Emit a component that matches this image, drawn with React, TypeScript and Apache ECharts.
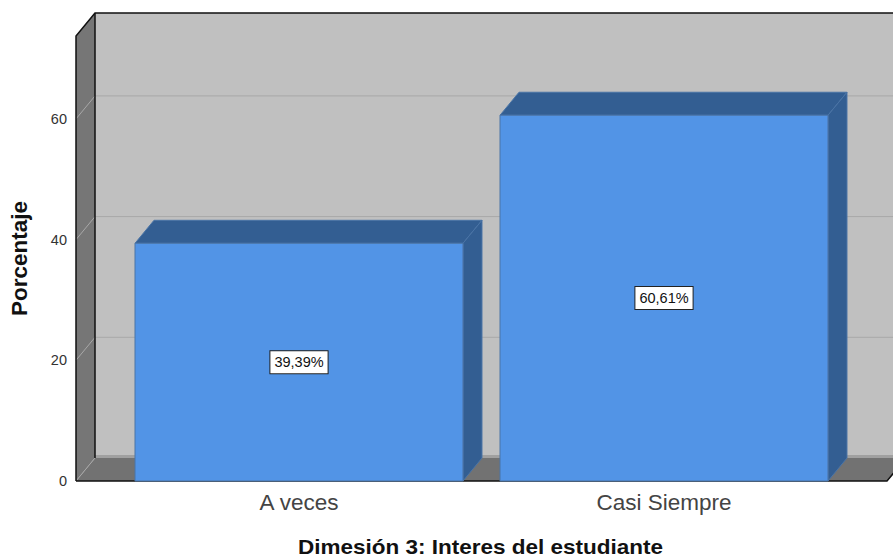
import React, { useEffect, useRef } from "react";
import * as echarts from "echarts";

const categories = ["A veces", "Casi Siempre"];
const percentages = [39.39, 60.61];
const barLabels = ["39,39%", "60,61%"];
const yTicks = [0, 20, 40, 60];
const yMax = 73.74;
const xAxisTitle = "Dimesión 3: Interes del estudiante";
const yAxisTitle = "Porcentaje";

const DX = 19;
const DY = 23;
const WALL_PAD = 40.5;

export default function App() {
  const ref = useRef<HTMLDivElement>(null);
  useEffect(() => {
    document.body.style.margin = "0";
    const chart = echarts.init(ref.current!, undefined, { renderer: "svg" });
    const font = "Liberation Sans";
    chart.setOption({
      animation: false,
      backgroundColor: "#ffffff",
      grid: { left: 116.5, top: 36, width: 730, height: 445 },
      graphic: [
        {
          type: "text",
          x: 480.5,
          y: 547,
          scaleX: 1.155,
          style: {
            text: xAxisTitle,
            fontFamily: font,
            fontSize: 19.5,
            fontWeight: "bold",
            fill: "#111",
            align: "center",
            verticalAlign: "middle",
          },
        },
      ],
      xAxis: {
        type: "category",
        data: categories,
        axisLine: { show: false },
        axisTick: { show: false },
        axisLabel: { fontFamily: font, fontSize: 22.5, color: "#444", margin: 10 },
      },
      yAxis: {
        type: "value",
        min: 0,
        max: yMax,
        interval: 20,
        offset: 40.5,
        splitLine: { show: false },
        axisLine: { show: false },
        axisTick: { show: false },
        axisLabel: { fontFamily: font, fontSize: 14.5, color: "#333", margin: 9, showMaxLabel: false, padding: [5, 0, 0, 0] },
        name: yAxisTitle,
        nameLocation: "middle",
        nameGap: 45,
        nameTextStyle: { fontFamily: font, fontSize: 22.5, fontWeight: "bold", color: "#111" },
      },
      series: [
        {
          type: "custom",
          coordinateSystem: "cartesian2d",
          silent: true,
          z: 1,
          data: [[0, 0]],
          renderItem: (params: any, api: any) => {
            const cs = params.coordSys;
            const l = cs.x - WALL_PAD;
            const r = cs.x + cs.width + WALL_PAD;
            const t = cs.y;
            const b = cs.y + cs.height;
            const children: any[] = [
              { type: "polygon", shape: { points: [[l + DX, t - DY], [r + DX, t - DY], [r + DX, b - DY], [l + DX, b - DY]] }, style: { fill: "#c0c0c0" } },
              { type: "polygon", shape: { points: [[l, t], [l + DX, t - DY], [l + DX, b - DY], [l, b]] }, style: { fill: "#767676" } },
              { type: "polygon", shape: { points: [[l, b], [l + DX, b - DY], [r + DX, b - DY], [r, b]] }, style: { fill: "#727272" } },
              { type: "rect", shape: { x: l + DX, y: b - DY - 3, width: r - l, height: 3 }, style: { fill: "#a0a0a0" } },
            ];
            yTicks.slice(1).forEach((v) => {
              const y = api.coord([0, v])[1];
              children.push({ type: "polyline", shape: { points: [[l, y], [l + DX, y - DY], [r + DX, y - DY]] }, style: { fill: "none", stroke: "#a8a8a8", lineWidth: 1 } });
            });
            children.push(
              { type: "line", shape: { x1: l, y1: b, x2: l + DX, y2: b - DY }, style: { stroke: "#a8a8a8", lineWidth: 1 } },
              { type: "polyline", shape: { points: [[l, b], [l, t], [l + DX, t - DY], [r + DX, t - DY]] }, style: { fill: "none", stroke: "#111", lineWidth: 1.5 } },
              { type: "line", shape: { x1: l + DX, y1: t - DY, x2: l + DX, y2: b - DY }, style: { stroke: "#111", lineWidth: 1.5 } },
              { type: "polyline", shape: { points: [[l, b], [r, b], [r + DX, b - DY]] }, style: { fill: "none", stroke: "#111", lineWidth: 1.5 } }
            );
            return { type: "group", children };
          },
        },
        {
          type: "custom",
          coordinateSystem: "cartesian2d",
          silent: true,
          z: 2,
          data: percentages.map((v, i) => [i, v]),
          encode: { x: 0, y: 1 },
          renderItem: (params: any, api: any) => {
            const i = api.value(0);
            const v = api.value(1);
            const top = api.coord([i, v]);
            const base = api.coord([i, 0]);
            const w = api.size([1, 0])[0] * 0.8986;
            const x0 = top[0] - w / 2;
            const x1 = top[0] + w / 2;
            const edge = { stroke: "#4a74a6", lineWidth: 1 };
            return {
              type: "group",
              children: [
                { type: "polygon", shape: { points: [[x0, top[1]], [x0 + DX, top[1] - DY], [x1 + DX, top[1] - DY], [x1, top[1]]] }, style: { fill: "#335e92", ...edge } },
                { type: "polygon", shape: { points: [[x1, top[1]], [x1 + DX, top[1] - DY], [x1 + DX, base[1] - DY], [x1, base[1]]] }, style: { fill: "#335e92", ...edge } },
                { type: "rect", shape: { x: x0, y: top[1], width: w, height: base[1] - top[1] }, style: { fill: "#5294e6", ...edge } },
                {
                  type: "text",
                  x: top[0],
                  y: (top[1] + base[1]) / 2,
                  style: {
                    text: barLabels[params.dataIndex],
                    fontFamily: font,
                    fontSize: 14.5,
                    fill: "#111",
                    align: "center",
                    verticalAlign: "middle",
                    backgroundColor: "#ffffff",
                    borderColor: "#222",
                    borderWidth: 1,
                    padding: [4, 4, 3, 4],
                  },
                },
              ],
            };
          },
        },
      ],
    });
    return () => chart.dispose();
  }, []);
  return <div ref={ref} style={{ width: 893, height: 560 }} />;
}
